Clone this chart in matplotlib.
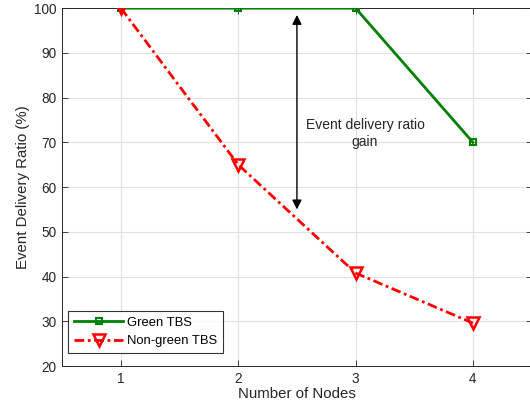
import matplotlib
matplotlib.use("Agg")
import matplotlib.pyplot as plt

nodes = [1, 2, 3, 4]
green_tbs = [100, 100, 100, 70]
non_green_tbs = [100, 65, 40.8, 29.6]
yticks = [20, 30, 40, 50, 60, 70, 80, 90, 100]
arrow_x = 2.5
arrow_top = 98.5
arrow_bottom = 55

plt.rcParams['font.family'] = ['Liberation Sans', 'DejaVu Sans']
fig = plt.figure(figsize=(5.30, 4.09), dpi=100)
ax = fig.add_axes([0.1175, 0.105, 0.8855, 0.875])

ax.plot(nodes, green_tbs, color='#008000', lw=2.0, marker='s', ms=5,
        mfc='none', mec='#008000', mew=1.5, label='Green TBS', zorder=3)
ax.plot(nodes, non_green_tbs, color='#ff0000', lw=2.0, ls=(0, (3.5, 1.3, 1, 1.3)),
        marker='v', ms=8, mfc='none', mec='#ff0000', mew=1.8,
        label='Non-green TBS', zorder=3)

ax.annotate('', xy=(arrow_x, arrow_top), xytext=(arrow_x, arrow_bottom),
            arrowprops=dict(arrowstyle='<|-|>', color='black', lw=1.0,
                            mutation_scale=14, shrinkA=0, shrinkB=0))
ax.text(3.08, 72, 'Event delivery ratio\ngain', ha='center', va='center',
        fontsize=10, color='#262626', linespacing=1.3)

ax.set_xlim(0.5, 4.5)
ax.set_ylim(20, 100)
ax.set_xticks(nodes)
ax.set_yticks(yticks)
ax.grid(True, color='#e0e0e0', lw=0.8)
ax.set_axisbelow(True)
ax.tick_params(direction='in', top=True, right=True, labelsize=9.8,
               colors='#262626', length=4, width=0.6, pad=4)
for s in ax.spines.values():
    s.set_color('#262626')
    s.set_linewidth(0.7)

ax.set_xlabel('Number of Nodes', fontsize=10.8, color='#262626', labelpad=1)
ax.set_ylabel('Event Delivery Ratio (%)', fontsize=10.8, color='#262626', labelpad=3)

leg = ax.legend(loc='lower left', bbox_to_anchor=(0.012, 0.036), fontsize=9.4,
                frameon=True, fancybox=False, edgecolor='black',
                handlelength=3.8, handletextpad=0.3, borderpad=0.45,
                labelspacing=0.5, borderaxespad=0)
leg.get_frame().set_linewidth(0.8)

fig.savefig('out.png', dpi=100)
